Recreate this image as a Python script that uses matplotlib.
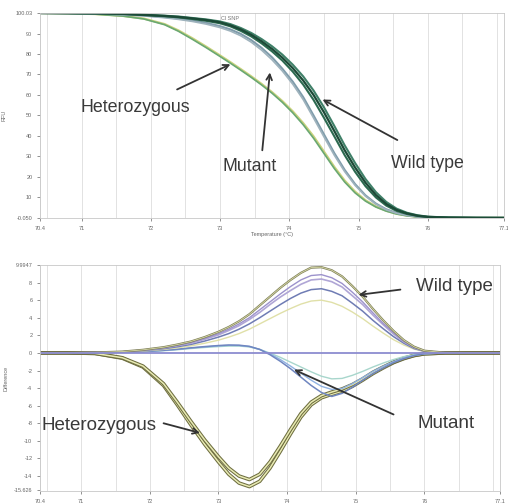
import numpy as np
import matplotlib.pyplot as plt

plt.rcParams['font.family'] = ['Liberation Sans', 'DejaVu Sans']

# temperature grid (deg C)
temp = [70.4, 70.8, 71.2, 71.6, 71.9, 72.2, 72.4, 72.6, 72.8, 73.0, 73.15,
        73.3, 73.45, 73.6, 73.75, 73.9, 74.05, 74.2, 74.35, 74.5, 74.65, 74.8,
        74.95, 75.1, 75.25, 75.4, 75.55, 75.7, 75.85, 76.0, 76.3, 76.7, 77.1]

# normalized melt curves (RFU %)
melt_wt1 = [100, 99.95, 99.85, 99.6, 99.1, 98.6, 98.1, 97.4, 96.6, 95.5, 94.0,
            92.0, 89.4, 86.2, 82.5, 78.2, 73.1, 67.1, 60.0, 51.6, 42.4, 33.0,
            24.6, 17.2, 11.2, 6.8, 3.9, 2.2, 1.1, 0.5, 0.15, 0.03, 0]
melt_wt2 = [100, 99.95, 99.8, 99.5, 99.0, 98.4, 97.9, 97.1, 96.2, 95.0, 93.5,
            91.3, 88.6, 85.2, 81.3, 76.8, 71.4, 65.1, 57.6, 48.9, 39.8, 30.6,
            22.5, 15.5, 10.0, 6.0, 3.4, 1.9, 0.95, 0.45, 0.12, 0.03, 0]
melt_wt3 = [100, 99.95, 99.85, 99.65, 99.2, 98.7, 98.3, 97.6, 96.9, 95.9, 94.6,
            92.7, 90.3, 87.3, 83.8, 79.7, 74.8, 69.1, 62.2, 54.0, 44.9, 35.4,
            26.8, 19.0, 12.6, 7.8, 4.5, 2.5, 1.3, 0.6, 0.18, 0.04, 0]
melt_mut1 = [100, 99.9, 99.7, 99.3, 98.8, 98.0, 97.3, 96.4, 95.2, 93.6, 92.0,
             89.8, 86.8, 83.0, 78.4, 72.8, 66.5, 59.0, 50.0, 40.8, 31.6, 23.4,
             16.5, 11.0, 7.0, 4.2, 2.4, 1.3, 0.65, 0.3, 0.08, 0.02, 0]
melt_mut2 = [100, 99.9, 99.65, 99.2, 98.6, 97.7, 96.9, 95.9, 94.6, 92.9, 91.2,
             88.9, 85.8, 81.9, 77.2, 71.7, 65.3, 57.8, 48.8, 39.6, 30.6, 22.6,
             15.9, 10.6, 6.7, 4.0, 2.3, 1.25, 0.62, 0.28, 0.07, 0.02, 0]
melt_het1 = [100, 99.85, 99.5, 98.6, 97.3, 94.6, 91.5, 87.7, 83.6, 79.3, 76.0,
             72.6, 69.1, 65.4, 61.4, 57.0, 52.0, 46.3, 39.8, 32.4, 24.9, 18.2,
             12.8, 8.6, 5.6, 3.5, 2.0, 1.1, 0.55, 0.25, 0.05, 0, 0]
melt_het2 = [100, 99.85, 99.45, 98.5, 97.1, 94.3, 91.1, 87.2, 83.1, 78.8, 75.5,
             72.1, 68.6, 64.9, 60.9, 56.4, 51.3, 45.5, 38.9, 31.5, 24.1, 17.5,
             12.2, 8.2, 5.3, 3.3, 1.9, 1.0, 0.5, 0.22, 0.04, 0, 0]

# difference curves
diff_wt1 = [0, 0, 0.05, 0.15, 0.35, 0.65, 0.95, 1.3, 1.8, 2.4, 2.95,
            3.6, 4.4, 5.4, 6.4, 7.4, 8.3, 9.1, 9.7, 9.75, 9.4, 8.7,
            7.6, 6.4, 5.0, 3.7, 2.5, 1.45, 0.7, 0.25, 0.03, 0, 0]
diff_wt2 = [0, 0, 0.04, 0.13, 0.3, 0.56, 0.82, 1.1, 1.55, 2.05, 2.55,
            3.1, 3.8, 4.6, 5.5, 6.35, 7.1, 7.8, 8.3, 8.4, 8.1, 7.5,
            6.5, 5.5, 4.3, 3.2, 2.15, 1.25, 0.6, 0.2, 0.03, 0, 0]
diff_wt3 = [0, 0, 0.05, 0.14, 0.32, 0.6, 0.86, 1.2, 1.65, 2.2, 2.7,
            3.3, 4.0, 4.9, 5.8, 6.7, 7.55, 8.3, 8.8, 8.9, 8.55, 7.9,
            6.9, 5.8, 4.55, 3.35, 2.3, 1.3, 0.65, 0.22, 0.03, 0, 0]
diff_wt4 = [0, 0, 0.04, 0.11, 0.26, 0.48, 0.7, 0.97, 1.35, 1.8, 2.2,
            2.7, 3.3, 4.0, 4.75, 5.5, 6.2, 6.8, 7.2, 7.3, 7.0, 6.5,
            5.65, 4.75, 3.7, 2.75, 1.85, 1.1, 0.5, 0.18, 0.02, 0, 0]
diff_wt5 = [0, 0, 0.03, 0.09, 0.21, 0.4, 0.58, 0.8, 1.1, 1.45, 1.8,
            2.2, 2.7, 3.3, 3.9, 4.5, 5.05, 5.55, 5.9, 6.0, 5.75, 5.3,
            4.65, 3.9, 3.05, 2.25, 1.5, 0.9, 0.43, 0.15, 0.02, 0, 0]
diff_mut1 = [0, 0, 0.02, 0.08, 0.15, 0.3, 0.42, 0.58, 0.72, 0.84, 0.9,
             0.88, 0.75, 0.4, -0.2, -0.95, -1.8, -2.75, -3.7, -4.5, -4.95, -4.6,
             -3.9, -3.1, -2.35, -1.7, -1.1, -0.65, -0.3, -0.1, 0, 0, 0]
diff_mut2 = [0, 0, 0.02, 0.06, 0.12, 0.25, 0.36, 0.5, 0.62, 0.72, 0.78,
             0.78, 0.68, 0.4, -0.02, -0.5, -1.05, -1.6, -2.15, -2.65, -2.95, -2.9,
             -2.55, -2.1, -1.6, -1.15, -0.75, -0.42, -0.2, -0.07, 0, 0, 0]
diff_mut3 = [0, 0, 0.02, 0.07, 0.14, 0.28, 0.4, 0.55, 0.68, 0.8, 0.86,
             0.84, 0.72, 0.4, -0.1, -0.75, -1.5, -2.3, -3.1, -3.8, -4.15, -4.05,
             -3.5, -2.8, -2.1, -1.5, -0.98, -0.56, -0.26, -0.09, 0, 0, 0]
diff_het1 = [0, 0, -0.05, -0.6, -1.6, -3.7, -5.9, -8.2, -10.4, -12.4, -13.8,
             -14.8, -15.2, -14.6, -13.1, -11.2, -9.2, -7.3, -5.9, -5.1, -4.7, -4.35,
             -3.8, -3.1, -2.35, -1.7, -1.1, -0.65, -0.3, -0.1, 0, 0, 0]
diff_het2 = [0, 0, -0.05, -0.55, -1.5, -3.5, -5.6, -7.8, -9.9, -11.8, -13.1,
             -14.0, -14.4, -13.8, -12.4, -10.6, -8.7, -6.9, -5.6, -4.85, -4.45, -4.1,
             -3.6, -2.95, -2.2, -1.6, -1.05, -0.6, -0.28, -0.09, 0, 0, 0]
diff_ref = [0] * len(temp)

x_ticks = [70.4, 71, 72, 73, 74, 75, 76, 77.1]
x_ticklabels = ['70.4', '71', '72', '73', '74', '75', '76', '77.1']
top_yticks = [-0.05, 10, 20, 30, 40, 50, 60, 70, 80, 90, 100.03]
top_yticklabels = ['-0.050', '10', '20', '30', '40', '50', '60', '70', '80', '90', '100.03']
bot_yticks = [-15.63, -14, -12, -10, -8, -6, -4, -2, 0, 2, 4, 6, 8, 9.99]
bot_yticklabels = ['-15.626', '-14', '-12', '-10', '-8', '-6', '-4', '-2', '0',
                   '2', '4', '6', '8', '9.9947']

txt_col = '#3a3a3a'
fig = plt.figure(figsize=(5.08, 5.03), dpi=100)
ax1 = fig.add_axes([0.0787, 0.5666, 0.9134, 0.4076])
ax2 = fig.add_axes([0.0787, 0.0239, 0.9055, 0.4493])

for ax in (ax1, ax2):
    ax.set_xlim(70.4, 77.1)
    ax.set_xticks(x_ticks)
    ax.set_xticklabels(x_ticklabels)
    ax.set_xticks(np.arange(70.5, 77.1, 0.5), minor=True)
    ax.grid(True, axis='x', which='both', color='#e2e2e2', lw=0.7)
    ax.set_axisbelow(True)
    ax.tick_params(labelsize=4, colors='#666666', length=2, width=0.5)
    ax.tick_params(which='minor', length=0)
    for s in ax.spines.values():
        s.set_color('#c8c8c8')
        s.set_linewidth(0.6)

# top: melt curves
ax1.set_ylim(-0.05, 100.03)
ax1.set_yticks(top_yticks)
ax1.set_yticklabels(top_yticklabels)
ax1.plot(temp, melt_het1, color='#c9d27c', lw=1.6)
ax1.plot(temp, melt_het2, color='#6aa872', lw=1.2)
ax1.plot(temp, melt_mut1, color='#7f9cab', lw=1.5)
ax1.plot(temp, melt_mut2, color='#9fb3bd', lw=1.2)
ax1.plot(temp, melt_wt3, color='#3f8068', lw=1.5)
ax1.plot(temp, melt_wt2, color='#2c6a50', lw=1.5)
ax1.plot(temp, melt_wt1, color='#1c4a37', lw=1.6)
ax1.text(0.41, 0.985, 'Cl SNP', fontsize=4, color='#777777', ha='center', va='top',
         transform=ax1.transAxes)
ax1.set_xlabel('Temperature (°C)', fontsize=4, color='#666666', labelpad=1)
ax1.set_ylabel('RFU', fontsize=4, color='#666666', labelpad=6)

arrow = dict(arrowstyle='->', color='#333333', lw=1.3, shrinkA=0, shrinkB=0)
ax1.annotate('', xy=(73.15, 75), xytext=(72.38, 62.7), arrowprops=arrow)
ax1.text(71.77, 54, 'Heterozygous', fontsize=12.8, color=txt_col, ha='center', va='center')
ax1.annotate('', xy=(73.72, 71), xytext=(73.61, 33), arrowprops=arrow)
ax1.text(73.43, 25, 'Mutant', fontsize=12.8, color=txt_col, ha='center', va='center')
ax1.annotate('', xy=(74.48, 57.8), xytext=(75.56, 38), arrowprops=arrow)
ax1.text(76.0, 26.5, 'Wild type', fontsize=12.8, color=txt_col, ha='center', va='center')

# bottom: difference curves
ax2.set_ylim(-15.7, 10.0)
ax2.set_yticks(bot_yticks)
ax2.set_yticklabels(bot_yticklabels)
ax2.set_ylabel('Difference', fontsize=4, color='#666666', labelpad=4)
for d in (diff_het1, diff_het2):
    ax2.plot(temp, d, color='#6e6e40', lw=2.6)
    ax2.plot(temp, d, color='#e9ebb4', lw=1.1)
ax2.plot(temp, diff_mut2, color='#a8d6cc', lw=1.0)
ax2.plot(temp, diff_mut3, color='#8fb2e2', lw=1.0)
ax2.plot(temp, diff_mut1, color='#6f86c0', lw=1.1)
ax2.plot(temp, diff_wt5, color='#e0e0a8', lw=1.0)
ax2.plot(temp, diff_wt4, color='#6f7cb4', lw=1.1)
ax2.plot(temp, diff_wt2, color='#b0a6d6', lw=1.2)
ax2.plot(temp, diff_wt3, color='#9c92cc', lw=1.0)
ax2.plot(temp, diff_wt1, color='#7e7e58', lw=1.6)
ax2.plot(temp, diff_wt1, color='#d8dba8', lw=0.6)
ax2.plot(temp, diff_ref, color='#8c8cd0', lw=1.3)

ax2.annotate('', xy=(75.04, 6.6), xytext=(75.65, 7.2), arrowprops=arrow)
ax2.text(76.44, 7.5, 'Wild type', fontsize=13.5, color=txt_col, ha='center', va='center')
ax2.annotate('', xy=(74.1, -1.9), xytext=(75.55, -7.0), arrowprops=arrow)
ax2.text(76.31, -8.0, 'Mutant', fontsize=13.5, color=txt_col, ha='center', va='center')
ax2.annotate('', xy=(72.73, -9.1), xytext=(72.2, -8.0), arrowprops=arrow)
ax2.text(71.26, -8.2, 'Heterozygous', fontsize=13.5, color=txt_col, ha='center', va='center')

fig.savefig('out.png', dpi=100)
